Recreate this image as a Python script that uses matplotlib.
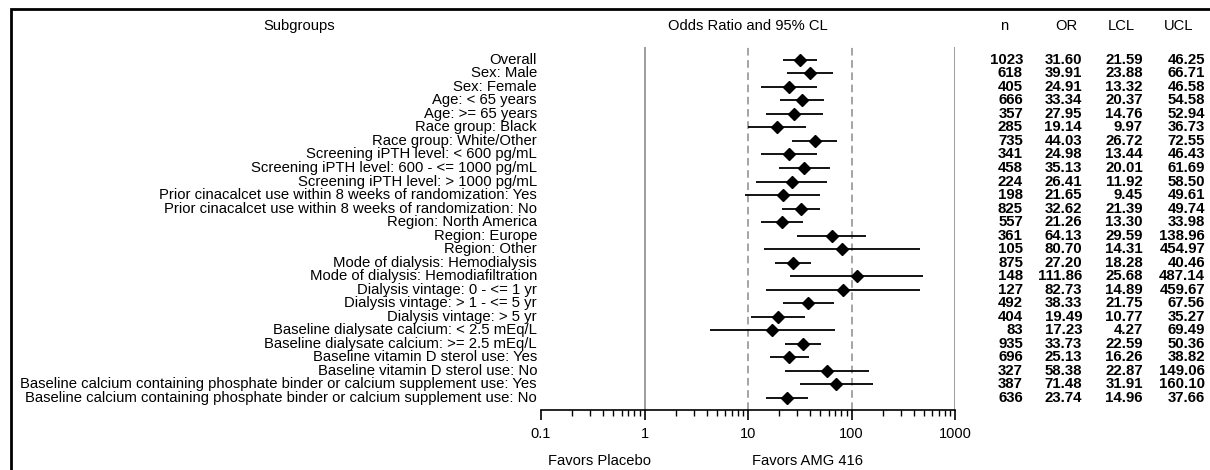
import numpy as np
import matplotlib
matplotlib.use('Agg')
import matplotlib.pyplot as plt
from matplotlib.patches import Rectangle
import matplotlib.transforms as mtransforms

plt.rcParams['font.family'] = ['Liberation Sans', 'DejaVu Sans']

# Subgroup table
subgroups = [
    'Overall',
    'Sex: Male',
    'Sex: Female',
    'Age: < 65 years',
    'Age: >= 65 years',
    'Race group: Black',
    'Race group: White/Other',
    'Screening iPTH level: < 600 pg/mL',
    'Screening iPTH level: 600 - <= 1000 pg/mL',
    'Screening iPTH level: > 1000 pg/mL',
    'Prior cinacalcet use within 8 weeks of randomization: Yes',
    'Prior cinacalcet use within 8 weeks of randomization: No',
    'Region: North America',
    'Region: Europe',
    'Region: Other',
    'Mode of dialysis: Hemodialysis',
    'Mode of dialysis: Hemodiafiltration',
    'Dialysis vintage: 0 - <= 1 yr',
    'Dialysis vintage: > 1 - <= 5 yr',
    'Dialysis vintage: > 5 yr',
    'Baseline dialysate calcium: < 2.5 mEq/L',
    'Baseline dialysate calcium: >= 2.5 mEq/L',
    'Baseline vitamin D sterol use: Yes',
    'Baseline vitamin D sterol use: No',
    'Baseline calcium containing phosphate binder or calcium supplement use: Yes',
    'Baseline calcium containing phosphate binder or calcium supplement use: No',
]
n = [1023, 618, 405, 666, 357, 285, 735, 341, 458, 224, 198, 825, 557,
     361, 105, 875, 148, 127, 492, 404, 83, 935, 696, 327, 387, 636]
odds = [31.60, 39.91, 24.91, 33.34, 27.95, 19.14, 44.03, 24.98, 35.13, 26.41,
        21.65, 32.62, 21.26, 64.13, 80.70, 27.20, 111.86, 82.73, 38.33, 19.49,
        17.23, 33.73, 25.13, 58.38, 71.48, 23.74]
lcl = [21.59, 23.88, 13.32, 20.37, 14.76, 9.97, 26.72, 13.44, 20.01, 11.92,
       9.45, 21.39, 13.30, 29.59, 14.31, 18.28, 25.68, 14.89, 21.75, 10.77,
       4.27, 22.59, 16.26, 22.87, 31.91, 14.96]
ucl = [46.25, 66.71, 46.58, 54.58, 52.94, 36.73, 72.55, 46.43, 61.69, 58.50,
       49.61, 49.74, 33.98, 138.96, 454.97, 40.46, 487.14, 459.67, 67.56, 35.27,
       69.49, 50.36, 38.82, 149.06, 160.10, 37.66]
xticks = [0.1, 1, 10, 100, 1000]
xticklabels = ['0.1', '1', '10', '100', '1000']

W, H = 1210, 470
fig = plt.figure(figsize=(W / 100, H / 100), dpi=100)

# plot panel (pixel placement from the reference)
ax_l, ax_r, ax_t, ax_b = 541, 955, 47, 410
ax = fig.add_axes([ax_l / W, 1 - ax_b / H, (ax_r - ax_l) / W, (ax_b - ax_t) / H])

rows = np.arange(len(subgroups))
ax.set_xscale('log')
ax.set_xlim(0.1, 1000)
ax.set_ylim(25.9, -0.95)

# reference lines
ax.axvline(1, color='#8c8c8c', lw=1.2)
ax.axvline(1000, color='#8c8c8c', lw=1.2)
for v in (10, 100):
    ax.axvline(v, color='#8c8c8c', lw=1.1, ls=(0, (5, 3)))

ax.hlines(rows, lcl, ucl, color='black', lw=1.3)
ax.plot(odds, rows, 'D', color='black', ms=6.2)

for s in ('top', 'left', 'right'):
    ax.spines[s].set_visible(False)
ax.spines['bottom'].set_linewidth(1.2)
ax.set_yticks([])
ax.set_xticks(xticks)
ax.set_xticklabels(xticklabels, fontsize=10.5)
ax.tick_params(axis='x', which='major', length=7, width=1.2, pad=5)
ax.tick_params(axis='x', which='minor', length=4, width=1.0)

# text columns: x in figure coords, y in data coords
trans = mtransforms.blended_transform_factory(fig.transFigure, ax.transData)
for i, lab in enumerate(subgroups):
    ax.text(537 / W, i, lab, transform=trans, ha='right', va='center',
            fontsize=10.7, clip_on=False)
    ax.text(1023 / W, i, str(n[i]), transform=trans, ha='right', va='center',
            fontsize=10.8, fontweight='bold', clip_on=False)
    ax.text(1082 / W, i, '%.2f' % odds[i], transform=trans, ha='right', va='center',
            fontsize=10.8, fontweight='bold', clip_on=False)
    ax.text(1143 / W, i, '%.2f' % lcl[i], transform=trans, ha='right', va='center',
            fontsize=10.8, fontweight='bold', clip_on=False)
    ax.text(1205 / W, i, '%.2f' % ucl[i], transform=trans, ha='right', va='center',
            fontsize=10.8, fontweight='bold', clip_on=False)

# headers
hy = 1 - 26 / H
fig.text(299 / W, hy, 'Subgroups', ha='center', va='center', fontsize=10.6)
fig.text(748 / W, hy, 'Odds Ratio and 95% CL', ha='center', va='center', fontsize=10.6)
for xp, txt in [(1004, 'n'), (1066, 'OR'), (1121, 'LCL'), (1179, 'UCL')]:
    fig.text(xp / W, hy, txt, ha='center', va='center', fontsize=10.6)

fig.text(600 / W, 1 - 461 / H, 'Favors Placebo', ha='center', va='center', fontsize=10.6)
fig.text(808 / W, 1 - 461 / H, 'Favors AMG 416', ha='center', va='center', fontsize=10.6)

# outer frame (cut by the image edge on right and bottom)
fig.patches.append(Rectangle((10.5 / W, -0.2), 1.5, 1.2 - 8.5 / H,
                             transform=fig.transFigure, fill=False,
                             edgecolor='black', lw=2.0))

fig.savefig('out.png', dpi=100)
